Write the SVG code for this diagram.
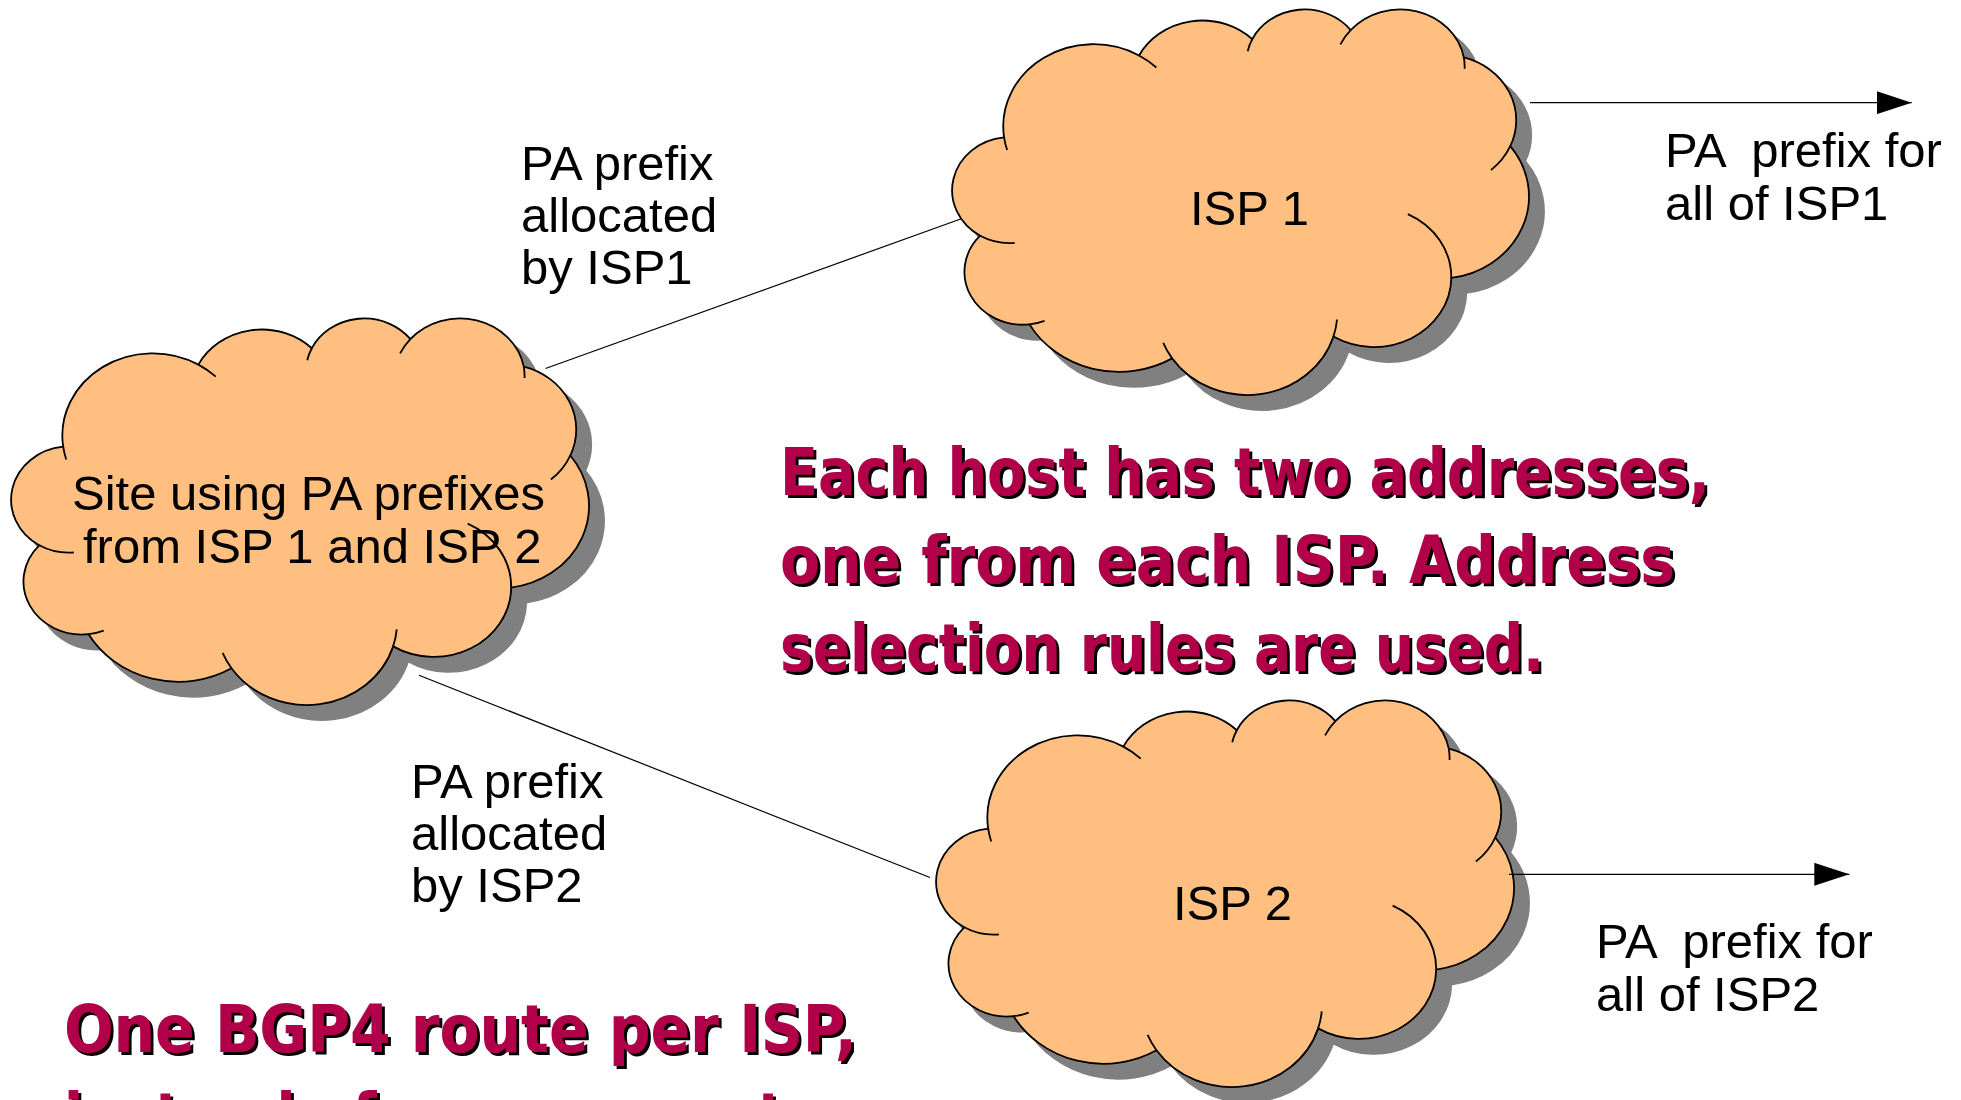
<svg xmlns="http://www.w3.org/2000/svg" xmlns:xlink="http://www.w3.org/1999/xlink" width="1961" height="1100" viewBox="0 0 1961 1100">
  <style>
    .cloud-body { fill: #ffbf80; stroke: #000; stroke-width: 1.8; }
    .cloud-shade { fill: #808080; stroke: #808080; stroke-width: 1.8; }
    .cloud-arcs { fill: none; stroke: #000; stroke-width: 1.8; }
    .lbl { font-family: "Liberation Sans", Arial, sans-serif; font-size: 49px; fill: #000; }
    .note { font-family: "DejaVu Sans", sans-serif; font-weight: bold; font-size: 66px; fill: #b10048; filter: url(#noteShadow); }
    .conn { fill: none; stroke: #000; stroke-width: 1.2; }
  </style>
  <defs>
    <!-- cloud outline in a 43200 x 43200 design box -->
    <path id="cloudBody" vector-effect="non-scaling-stroke"
          d="M3900 14370
             A6753 9190 0 0 1 14005 5200
             A5333 7267 0 0 1 22480 3380
             A4365 5945 0 0 1 29850 2360
             A4857 6595 0 0 1 38324 5426
             A5333 7273 0 0 1 41798 15354
             A6775 9220 0 0 1 37385 30097
             A5785 7867 0 0 1 28560 36660
             A6752 9215 0 0 1 16480 39100
             A7720 10543 0 0 1 5800 35297
             A4360 5918 0 0 1 2110 25374
             A4345 5945 0 0 1 3900 14370 Z"/>
    <!-- short inner arcs where the puffs overlap -->
    <path id="cloudArcs" vector-effect="non-scaling-stroke"
          d="M4693 26177 A4345 5945 0 0 1 2110 25374
             M6928 34899 A4360 5918 0 0 1 5800 35297
             M16480 39100 A6752 9215 0 0 1 15817 37372
             M28827 34751 A6752 9215 0 0 1 28560 36660
             M34129 22954 A5785 7867 0 0 1 37385 30097
             M41798 15354 A5333 7273 0 0 1 40349 18030
             M38324 5426 A4857 6595 0 0 1 38382 6696
             M29078 3952 A4857 6595 0 0 1 29850 2360
             M22141 4720 A4365 5945 0 0 1 22480 3380
             M14005 5200 A6753 9190 0 0 1 15303 6547
             M4127 15789 A6753 9190 0 0 1 3900 14370"/>
    <marker id="arrowHead" markerUnits="userSpaceOnUse" markerWidth="36" markerHeight="23"
            viewBox="0 0 36 23" refX="35" refY="11.5" orient="auto">
      <path d="M0 0 L35 11.5 L0 23 Z" fill="#000"/>
    </marker>
    <filter id="noteShadow" x="-5%" y="-20%" width="110%" height="150%">
      <feDropShadow dx="3" dy="3" stdDeviation="0" flood-color="#000" flood-opacity="1"/>
    </filter>
  </defs>

  <rect width="1961" height="1100" fill="#fff"/>

  <!-- ISP 1 -->
  <g id="isp1" transform="translate(952,9)">
    <use xlink:href="#cloudBody" class="cloud-shade" transform="translate(15,15) scale(0.013356,0.008935)"/>
    <use xlink:href="#cloudBody" class="cloud-body" transform="scale(0.013356,0.008935)"/>
    <use xlink:href="#cloudArcs" class="cloud-arcs" transform="scale(0.013356,0.008935)"/>
    <text class="lbl" x="238" y="216">ISP 1</text>
  </g>

  <!-- customer site -->
  <g id="site" transform="translate(11,318)">
    <use xlink:href="#cloudBody" class="cloud-shade" transform="translate(15,15) scale(0.01338,0.008958)"/>
    <use xlink:href="#cloudBody" class="cloud-body" transform="scale(0.01338,0.008958)"/>
    <use xlink:href="#cloudArcs" class="cloud-arcs" transform="scale(0.01338,0.008958)"/>
    <text class="lbl" x="61" y="192">Site using PA prefixes</text>
    <text class="lbl" x="72" y="245">from ISP 1 and ISP 2</text>
  </g>

  <!-- ISP 2 -->
  <g id="isp2" transform="translate(936,700)">
    <use xlink:href="#cloudBody" class="cloud-shade" transform="translate(15,15) scale(0.01338,0.008958)"/>
    <use xlink:href="#cloudBody" class="cloud-body" transform="scale(0.01338,0.008958)"/>
    <use xlink:href="#cloudArcs" class="cloud-arcs" transform="scale(0.01338,0.008958)"/>
    <text class="lbl" x="237" y="219.5">ISP 2</text>
  </g>

  <!-- links and announcements -->
  <g id="connectors">
    <line class="conn" x1="545.5" y1="368.5" x2="962" y2="218.5"/>
    <line class="conn" x1="419" y1="675.3" x2="930" y2="877.5"/>
    <line class="conn" x1="1530" y1="102.7" x2="1911.7" y2="102.7" marker-end="url(#arrowHead)"/>
    <line class="conn" x1="1509" y1="874.3" x2="1849.3" y2="874.3" marker-end="url(#arrowHead)"/>
  </g>

  <!-- link and route labels -->
  <g id="labels">
    <text class="lbl">
      <tspan x="521" y="180">PA prefix</tspan>
      <tspan x="521" y="232">allocated</tspan>
      <tspan x="521" y="284">by ISP1</tspan>
    </text>
    <text class="lbl">
      <tspan x="411" y="798">PA prefix</tspan>
      <tspan x="411" y="850">allocated</tspan>
      <tspan x="411" y="902">by ISP2</tspan>
    </text>
    <text class="lbl" xml:space="preserve"><tspan x="1665" y="167">PA  prefix for</tspan><tspan x="1665" y="220">all of ISP1</tspan></text>
    <text class="lbl" xml:space="preserve"><tspan x="1596" y="958">PA  prefix for</tspan><tspan x="1596" y="1011">all of ISP2</tspan></text>
  </g>

  <!-- highlighted notes -->
  <g id="note-addresses">
    <text class="note" x="780" y="495" textLength="930" lengthAdjust="spacingAndGlyphs">Each host has two addresses,</text>
    <text class="note" x="780" y="583" textLength="895" lengthAdjust="spacingAndGlyphs">one from each ISP. Address</text>
    <text class="note" x="780" y="671" textLength="764" lengthAdjust="spacingAndGlyphs">selection rules are used.</text>
  </g>
  <g id="note-routes">
    <text class="note" x="64" y="1052" textLength="793" lengthAdjust="spacingAndGlyphs">One BGP4 route per ISP,</text>
    <text class="note" x="64" y="1140" textLength="880" lengthAdjust="spacingAndGlyphs">instead of one per customer</text>
  </g>
</svg>
